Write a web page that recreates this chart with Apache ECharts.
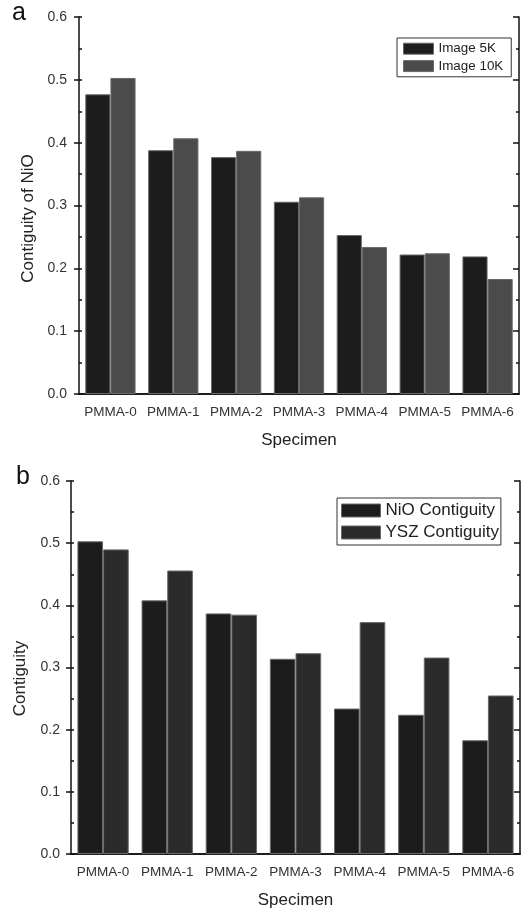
<!DOCTYPE html>
<html>
<head>
<meta charset="utf-8">
<script src="https://cdn.jsdelivr.net/npm/echarts@6/dist/echarts.min.js"></script>
<style>
  html, body { margin: 0; padding: 0; background: #fff; }
  #chart { width: 531px; height: 910px; }
</style>
</head>
<body>
<div id="chart"></div>
<script>
const specimens = ['PMMA-0', 'PMMA-1', 'PMMA-2', 'PMMA-3', 'PMMA-4', 'PMMA-5', 'PMMA-6']
const image5k = [0.477, 0.388, 0.377, 0.306, 0.253, 0.222, 0.219]
const image10k = [0.503, 0.407, 0.387, 0.313, 0.234, 0.224, 0.183]
const nioContiguity = [0.503, 0.408, 0.387, 0.314, 0.234, 0.224, 0.183]
const yszContiguity = [0.490, 0.456, 0.385, 0.323, 0.373, 0.316, 0.255]

const font = "'Liberation Sans', Arial, sans-serif"
const textColor = '#333'
const lineStyle = { color: '#111', width: 1.5 }

// one grid = 4 x axes (bottom/top, boundary + centre ticks)
const xAxesFor = (gridIndex) => [
  {
    gridIndex, type: 'category', data: specimens, position: 'bottom',
    axisLine: { lineStyle },
    axisTick: { length: 3, interval: 0, lineStyle },
    axisLabel: { color: textColor, fontFamily: font, fontSize: 13.5, margin: 11, interval: 0 },
    name: 'Specimen', nameLocation: 'middle', nameGap: 38,
    nameTextStyle: { color: '#222', fontFamily: font, fontSize: 17 },
  },
  {
    gridIndex, type: 'category', data: specimens, position: 'bottom',
    axisLine: { show: false },
    axisTick: { alignWithLabel: true, interval: 0, length: 7, lineStyle },
    axisLabel: { show: false, interval: 0 },
  },
  {
    gridIndex, type: 'category', data: specimens, position: 'top',
    axisLine: { lineStyle },
    axisTick: { inside: true, interval: 0, length: 3, lineStyle },
    axisLabel: { show: false, interval: 0 },
  },
  {
    gridIndex, type: 'category', data: specimens, position: 'top',
    axisLine: { show: false },
    axisTick: { inside: true, alignWithLabel: true, interval: 0, length: 7, lineStyle },
    axisLabel: { show: false, interval: 0 },
  },
]

const yAxesFor = (gridIndex, name, labelMargin, nameGap, shift) => [
  {
    gridIndex, type: 'value', position: 'left', min: 0, max: 0.6, interval: 0.1,
    splitLine: { show: false },
    axisLine: { show: true, lineStyle },
    axisTick: { show: true, length: 5, lineStyle },
    axisLabel: {
      color: textColor, fontFamily: font, fontSize: 14, margin: labelMargin,
      formatter: (v) => v.toFixed(1),
    },
    name, nameLocation: 'middle', nameGap,
    nameTextStyle: { color: '#222', fontFamily: font, fontSize: 17, padding: [0, shift, 0, 0] },
  },
  {
    gridIndex, type: 'value', position: 'left', min: 0, max: 0.6, interval: 0.05,
    splitLine: { show: false },
    axisLine: { show: false },
    axisTick: { show: true, inside: true, length: 3, lineStyle },
    axisLabel: { show: false },
  },
  {
    gridIndex, type: 'value', position: 'right', min: 0, max: 0.6, interval: 0.1,
    splitLine: { show: false },
    axisLine: { show: true, lineStyle },
    axisTick: { show: true, inside: true, length: 6, lineStyle },
    minorTick: { show: true, splitNumber: 2, length: 3, lineStyle },
    axisLabel: { show: false },
  },
]

const bar = (name, data, color, xAxisIndex, yAxisIndex) => ({
  name, type: 'bar', data, xAxisIndex, yAxisIndex,
  barGap: '0%', barCategoryGap: '20%',
  itemStyle: { color, borderColor: '#6a6a6a', borderWidth: 1 },
  emphasis: { disabled: true },
})

const legendFor = (data, left, top, itemWidth, itemHeight, fontSize, itemGap, padding) => ({
  data, left, top, orient: 'vertical', icon: 'rect', itemWidth, itemHeight, itemGap, padding,
  borderColor: '#333', borderWidth: 1, borderRadius: 0,
  textStyle: { color: '#222', fontFamily: font, fontSize, lineHeight: fontSize },
  itemStyle: { borderColor: '#6a6a6a', borderWidth: 1 },
})

const chart = echarts.init(document.getElementById('chart'))
chart.setOption({
  backgroundColor: '#fff',
  animation: false,
  title: [
    { text: 'a', left: 12, top: 1, padding: 0, textStyle: { fontFamily: font, fontSize: 25, fontWeight: 'normal', color: '#111' } },
    { text: 'b', left: 16, top: 465, padding: 0, textStyle: { fontFamily: font, fontSize: 25, fontWeight: 'normal', color: '#111' } },
  ],
  grid: [
    { left: 79, top: 17, width: 440, height: 377 },
    { left: 71, top: 481, width: 449, height: 373 },
  ],
  xAxis: [...xAxesFor(0), ...xAxesFor(1)],
  yAxis: [
    ...yAxesFor(0, 'Contiguity of NiO', 12, 40, 26),
    ...yAxesFor(1, 'Contiguity', 11, 42, 22),
  ],
  legend: [
    legendFor(['Image 5K', 'Image 10K'], 397, 38, 30, 11, 13.4, 4, [4, 8, 4, 6]),
    legendFor(['NiO Contiguity', 'YSZ Contiguity'], 337, 498, 39, 13, 17, 5, [4, 2, 4, 4]),
  ],
  series: [
    bar('Image 5K', image5k, '#1c1c1c', 0, 0),
    bar('Image 10K', image10k, '#4b4b4b', 0, 0),
    bar('NiO Contiguity', nioContiguity, '#1c1c1c', 4, 3),
    bar('YSZ Contiguity', yszContiguity, '#2b2b2b', 4, 3),
  ],
})
</script>
</body>
</html>
